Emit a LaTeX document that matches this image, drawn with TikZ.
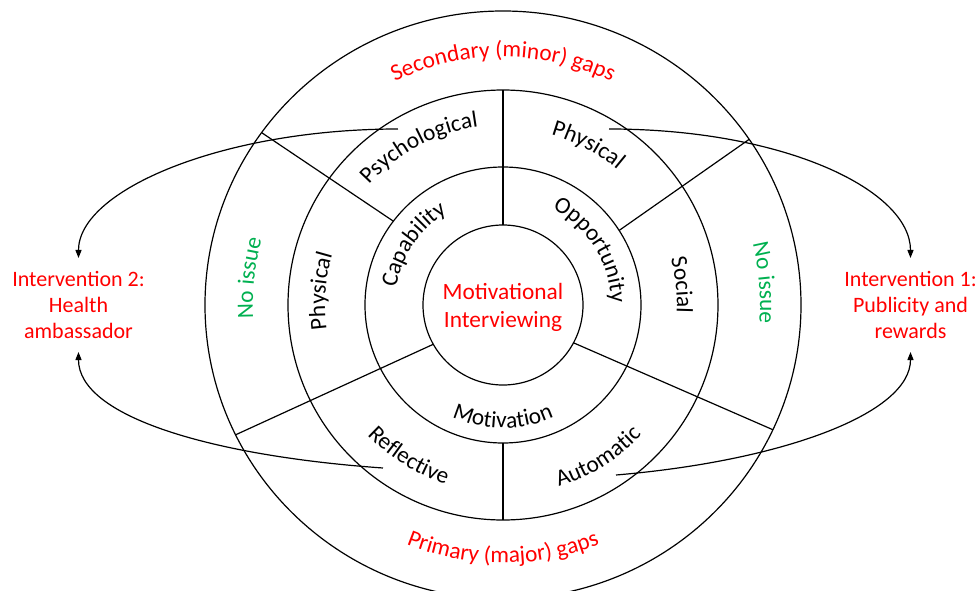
\documentclass[tikz,border=0pt]{standalone}
\usepackage{fontspec}
\setmainfont{Carlito}
\usetikzlibrary{decorations.text,arrows.meta}
\definecolor{gapred}{RGB}{255,0,0}
\definecolor{okgreen}{RGB}{0,176,80}
\newcommand{\ringfont}{\fontsize{17.5}{21}\selectfont}
\newcommand{\cwtext}[4][black]{%
  \path[decorate,decoration={text along path,text align=center,text color=#1,
    text={|\ringfont|#4}}] (#2+45:#3) arc[start angle=#2+45,end angle=#2-45,radius=#3];}
\newcommand{\ccwtext}[4][black]{%
  \path[decorate,decoration={text along path,text align=center,text color=#1,
    text={|\ringfont|#4}}] (#2-45:#3) arc[start angle=#2-45,end angle=#2+45,radius=#3];}

\begin{document}
\begin{tikzpicture}[x=0.75pt,y=0.75pt,line width=0.9pt,
    intervention/.style={align=center,text=gapred,font=\fontsize{16.5}{19.5}\selectfont,
      inner sep=3pt,outer sep=7pt},
    arrowline/.style={-{Triangle[length=6pt,width=4.5pt]}}]
  \useasboundingbox (-503,-285) rectangle (475,305);
  \clip (-503,-285) rectangle (475,305);

  \draw (0,0) circle[radius=80];
  \draw (0,0) circle[radius=138];
  \draw (0,0) circle[radius=215];
  \draw (0,0) ellipse[x radius=298,y radius=294];

  \draw (90:80) -- (90:215);
  \draw (270:138) -- (270:215);
  \draw (142.6:138) -- (144.1:298 and 294);
  \draw (32.7:138) -- (34.3:298 and 294);
  \draw (209.4:80) -- (206.2:298 and 294);
  \draw (-28.2:80) -- (-25.1:298 and 294);

  \node[align=center,text=gapred,font=\ringfont] (mi) at (0,-2) {Motivational\\Interviewing};

  \cwtext[gapred]{90}{248}{Secondary (minor) gaps}
  \ccwtext[gapred]{270}{258}{Primary (major) gaps}
  \cwtext{146}{108}{Capability}
  \cwtext{32}{108}{Opportunity}
  \ccwtext{270}{123}{Motivation}
  \cwtext{118}{180}{Psychological}
  \cwtext{62}{177}{Physical}
  \cwtext{175.6}{178}{Physical}
  \cwtext{6.4}{174}{Social}
  \ccwtext{238}{188}{Reflective}
  \ccwtext{302}{190}{Automatic}
  \cwtext[okgreen]{173.9}{250}{No issue}
  \cwtext[okgreen]{4.8}{257}{No issue}

  \node[intervention] (intl) at (-424.5,0) {Intervention 2:\\Health\\ambassador};
  \node[intervention] (intr) at (407.5,0) {Intervention 1:\\Publicity and\\rewards};

  \coordinate (psy) at (-105,176);
  \coordinate (phy) at (106,176);
  \coordinate (refl) at (-120,-163);
  \coordinate (auto) at (113,-170);

  \draw[arrowline] (psy) .. controls +(-175,0) and +(0,68) .. (intl.north);
  \draw[arrowline] (refl) .. controls +(-170,12) and +(0,-65) .. (intl.south);
  \draw[arrowline] (phy) .. controls +(175,0) and +(0,68) .. (intr.north);
  \draw[arrowline] (auto) .. controls +(165,14) and +(0,-62) .. (intr.south);
\end{tikzpicture}
\end{document}
